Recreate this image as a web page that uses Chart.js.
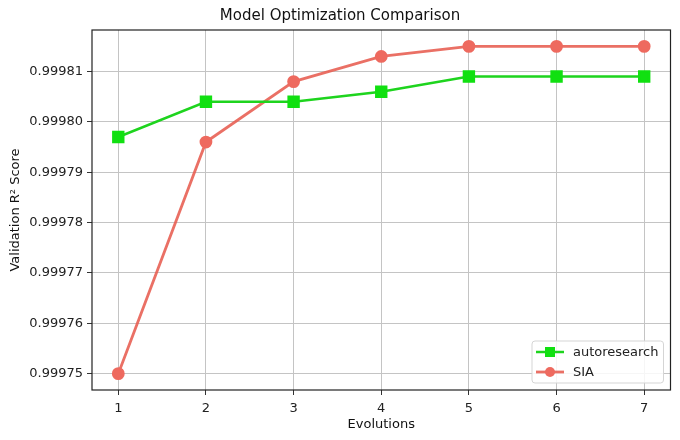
<!DOCTYPE html>
<html>
<head>
<meta charset="utf-8">
<title>Model Optimization Comparison</title>
<script src="https://cdn.jsdelivr.net/npm/chart.js@4/dist/chart.umd.min.js"></script>
<style>
    html, body { margin: 0; padding: 0; background: #ffffff; }
    #contenedor { width: 680px; height: 440px; }
</style>
</head>
<body>
<div id="contenedor"><canvas id="grafico-lineas"></canvas></div>
<script>
// Datos
var evoluciones = [1, 2, 3, 4, 5, 6, 7];
var autoresearch = [0.999797, 0.999804, 0.999804, 0.999806, 0.999809, 0.999809, 0.999809];
var sia = [0.99975, 0.999796, 0.999808, 0.999813, 0.999815, 0.999815, 0.999815];
var ticksY = [0.99975, 0.99976, 0.99977, 0.99978, 0.99979, 0.99980, 0.99981];

var fuente = "'DejaVu Sans', sans-serif";

// Convierte las series en puntos {x, y}
function aPuntos(valores) {
    var puntos = [];
    for (var i = 0; i < evoluciones.length; i++) {
        puntos.push({ x: evoluciones[i], y: valores[i] });
    }
    return puntos;
}

// Caja del area de dibujo y leyenda dentro del grafico (abajo a la derecha)
var pluginMarco = {
    id: "marco",
    afterDatasetsDraw: function(chart) {
        var ctx = chart.ctx;
        var a = chart.chartArea;
        ctx.save();
        ctx.strokeStyle = "#222222";
        ctx.lineWidth = 1.2;
        ctx.strokeRect(a.left, a.top, a.right - a.left, a.bottom - a.top);

        // Leyenda
        ctx.font = "13px " + fuente;
        var conjuntos = chart.data.datasets;
        var anchoTexto = 0;
        for (var i = 0; i < conjuntos.length; i++) {
            anchoTexto = Math.max(anchoTexto, ctx.measureText(conjuntos[i].label).width);
        }
        var alto = 20 * conjuntos.length + 2;
        var ancho = 41 + anchoTexto + 5;
        var x0 = a.right - 7 - ancho;
        var y0 = a.bottom - 7 - alto;
        ctx.fillStyle = "rgba(255,255,255,0.85)";
        ctx.strokeStyle = "#d5d5d5";
        ctx.lineWidth = 1;
        ctx.beginPath();
        ctx.roundRect(x0, y0, ancho, alto, 3);
        ctx.fill();
        ctx.stroke();
        for (var j = 0; j < conjuntos.length; j++) {
            var d = conjuntos[j];
            var yc = y0 + 11 + j * 20;
            ctx.strokeStyle = d.borderColor;
            ctx.lineWidth = d.borderWidth;
            ctx.beginPath();
            ctx.moveTo(x0 + 4, yc);
            ctx.lineTo(x0 + 32, yc);
            ctx.stroke();
            ctx.fillStyle = d.pointBackgroundColor;
            if (d.pointStyle === "rect") {
                ctx.fillRect(x0 + 18 - 5, yc - 5, 10, 10);
            } else {
                ctx.beginPath();
                ctx.arc(x0 + 18, yc, 5, 0, Math.PI * 2);
                ctx.fill();
            }
            ctx.fillStyle = "#222222";
            ctx.textBaseline = "middle";
            ctx.textAlign = "left";
            ctx.fillText(d.label, x0 + 41, yc + 1);
        }
        ctx.restore();
    }
};

var ctx = document.getElementById("grafico-lineas").getContext("2d");

var config = {
    type: "line",
    data: {
        datasets: [
            {
                label: "autoresearch",
                data: aPuntos(autoresearch),
                borderColor: "#1ed41e",
                backgroundColor: "#1ed41e",
                pointBackgroundColor: "#11e011",
                pointBorderColor: "#11e011",
                borderWidth: 2.5,
                pointStyle: "rect",
                pointRadius: 7,
                pointHoverRadius: 7,
                tension: 0
            },
            {
                label: "SIA",
                data: aPuntos(sia),
                borderColor: "rgba(232, 96, 84, 0.9)",
                backgroundColor: "#ee6a5f",
                pointBackgroundColor: "#ee6a5f",
                pointBorderColor: "#ee6a5f",
                borderWidth: 2.8,
                pointStyle: "circle",
                pointRadius: 5,
                pointHoverRadius: 5,
                tension: 0
            }
        ]
    },
    options: {
        responsive: false,
        animation: false,
        layout: { padding: { left: 8, right: 8, top: 0, bottom: 0 } },
        plugins: {
            legend: { display: false },
            tooltip: { enabled: false },
            title: {
                display: true,
                text: "Model Optimization Comparison",
                color: "#111111",
                font: { family: fuente, size: 15, weight: "normal" },
                padding: { top: 7, bottom: 5 }
            }
        },
        scales: {
            x: {
                type: "linear",
                min: 0.7,
                max: 7.3,
                afterBuildTicks: function(escala) {
                    escala.ticks = evoluciones.map(function(v) { return { value: v }; });
                },
                afterFit: function(escala) { escala.height = 50; },
                ticks: {
                    color: "#222222",
                    font: { family: fuente, size: 13 },
                    padding: 6,
                    maxRotation: 0,
                    callback: function(v) { return String(v); }
                },
                grid: { color: "#c4c4c4", lineWidth: 1, tickLength: 5, tickColor: "#333333" },
                border: { display: false },
                title: {
                    display: true,
                    text: "Evolutions",
                    color: "#111111",
                    font: { family: fuente, size: 13 },
                    padding: { top: 2, bottom: 8 }
                }
            },
            y: {
                type: "linear",
                min: 0.99974675,
                max: 0.99981825,
                afterBuildTicks: function(escala) {
                    escala.ticks = ticksY.map(function(v) { return { value: v }; });
                },
                afterFit: function(escala) { escala.width = 84; },
                ticks: {
                    color: "#222222",
                    font: { family: fuente, size: 13 },
                    padding: 4,
                    callback: function(v) { return Number(v).toFixed(5); }
                },
                grid: { color: "#c4c4c4", lineWidth: 1, tickLength: 5, tickColor: "#333333" },
                border: { display: false },
                title: {
                    display: true,
                    text: "Validation R\u00B2 Score",
                    color: "#111111",
                    font: { family: fuente, size: 13 },
                    padding: { top: 0, bottom: 4 }
                }
            }
        }
    },
    plugins: [pluginMarco]
};

var canvas = document.getElementById("grafico-lineas");
canvas.width = 680;
canvas.height = 440;
new Chart(ctx, config);
</script>
</body>
</html>
